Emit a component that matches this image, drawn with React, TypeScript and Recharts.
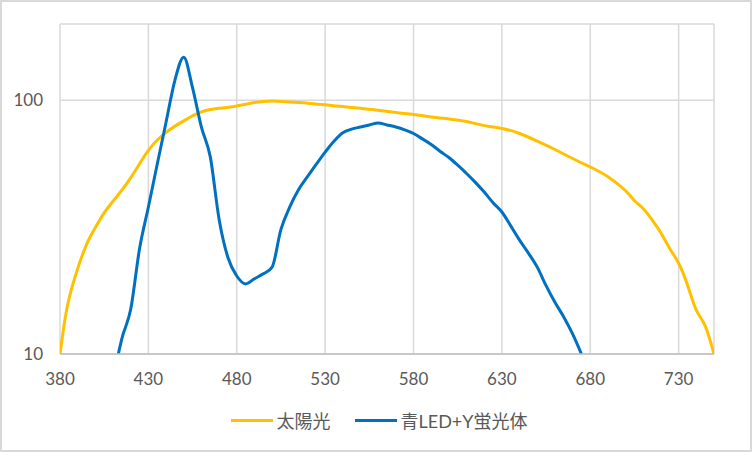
import React from 'react'
import {
  LineChart,
  Line,
  XAxis,
  YAxis,
  CartesianGrid,
  Legend,
} from 'recharts'

// 太陽光 (nm / relative intensity)
const sunNm = [
  380, 382, 385, 390, 395, 400, 405, 410, 420, 430, 440, 450, 460, 470, 480, 490, 500,
  510, 520, 530, 540, 550, 560, 570, 580, 590, 600, 610, 620, 630, 640, 650,
  660, 670, 680, 690, 700, 705, 710, 715, 720, 725, 730, 735, 740, 745, 750,
]
const sunVal = [
  10, 12.6, 16.4, 21.7, 27, 31.5, 36, 40, 49.5, 63.5, 74.8, 83, 90, 93, 95, 98, 99.5,
  98.5, 97.5, 96, 94.5, 93, 91.5, 89.5, 88, 86, 84.5, 82.5, 79.5, 77.5, 74, 69,
  64, 59, 54.6, 50, 44, 40.2, 37.4, 33.8, 30, 26, 22.8, 18.7, 14.9, 12.9, 10,
]

// 青LED+Y蛍光体
const ledNm = [
  413, 415, 420, 425, 430, 435, 440, 445, 450, 455, 460, 465, 470, 475, 480,
  485, 490, 495, 500, 505, 510, 515, 520, 525, 530, 535, 540, 545, 550, 555,
  560, 565, 570, 575, 580, 585, 590, 595, 600, 605, 610, 615, 620, 625, 630,
  635, 640, 645, 650, 655, 660, 665, 670, 675,
]
const ledVal = [
  10, 11.5, 15, 26, 38, 56, 82, 120, 148, 112, 78.5, 60, 34, 24, 20.3,
  18.9, 19.8, 20.7, 22, 31, 38, 44.5, 50, 56, 62.5, 69, 74.5, 77, 78.5, 80,
  81.5, 80, 78.5, 76.5, 74, 70.5, 67, 63, 59.5, 55.5, 51.5, 47.5, 43.5, 39.5, 36.3,
  32, 28.1, 25, 22, 18.6, 16, 14, 12, 10,
]

const xTicks = [380, 430, 480, 530, 580, 630, 680, 730]
const yTicks = [10, 100]

const series = [
  { key: 'sun', name: '太陽光', color: '#FFC000', curve: 'natural' as const },
  { key: 'led', name: '青LED+Y蛍光体', color: '#0070C0', curve: 'monotone' as const },
]

type Row = { nm: number; sun?: number; led?: number }

const rows: Row[] = (() => {
  const map = new Map<number, Row>()
  sunNm.forEach((nm, i) => {
    map.set(nm, { ...(map.get(nm) || { nm }), sun: sunVal[i] })
  })
  ledNm.forEach((nm, i) => {
    map.set(nm, { ...(map.get(nm) || { nm }), led: ledVal[i] })
  })
  return Array.from(map.values()).sort((a, b) => a.nm - b.nm)
})()

const font = "Lato, 'Noto Sans CJK JP', sans-serif"
const textColor = '#595959'

const LegendContent = () => (
  <div
    style={{
      display: 'flex',
      justifyContent: 'center',
      alignItems: 'center',
      height: 40,
      fontFamily: font,
      fontSize: 18,
      color: textColor,
      paddingLeft: 34,
    }}
  >
    {series.map((s, i) => (
      <div
        key={s.key}
        style={{ display: 'flex', alignItems: 'center', marginLeft: i ? 24 : 0 }}
      >
        <span
          style={{
            display: 'inline-block',
            width: 42,
            height: 3,
            background: s.color,
            marginRight: 4,
          }}
        />
        <span>{s.name}</span>
      </div>
    ))}
  </div>
)

const App: React.FC = () => {
  return (
    <div
      style={{
        position: 'absolute',
        left: 0,
        top: 0,
        width: 752,
        height: 452,
        boxSizing: 'border-box',
        border: '2px solid #d9d9d9',
        background: '#fff',
      }}
    >
      <div style={{ position: 'absolute', left: -2, top: -2 }}>
        <LineChart
          width={752}
          height={452}
          data={rows}
          margin={{ top: 24, right: 38, left: 10, bottom: 12 }}
        >
          <CartesianGrid stroke="#d9d9d9" strokeWidth={1.5} />
          <XAxis
            dataKey="nm"
            type="number"
            domain={[380, 750]}
            ticks={xTicks}
            allowDataOverflow
            height={46}
            tickLine={false}
            tickMargin={13}
            axisLine={{ stroke: '#bfbfbf', strokeWidth: 1.5 }}
            tick={{ fill: textColor, fontSize: 17, fontFamily: font }}
          />
          <YAxis
            scale="log"
            domain={[10, 200]}
            ticks={yTicks}
            allowDataOverflow
            width={50}
            axisLine={false}
            tickLine={false}
            tickMargin={11}
            tick={{ fill: textColor, fontSize: 17, fontFamily: font }}
          />
          <Legend verticalAlign="bottom" height={40} content={LegendContent} />
          {series.map((s) => (
            <Line
              key={s.key}
              type={s.curve}
              dataKey={s.key}
              name={s.name}
              stroke={s.color}
              strokeWidth={3}
              dot={false}
              activeDot={false}
              connectNulls
              isAnimationActive={false}
            />
          ))}
        </LineChart>
      </div>
    </div>
  )
}

export default App
